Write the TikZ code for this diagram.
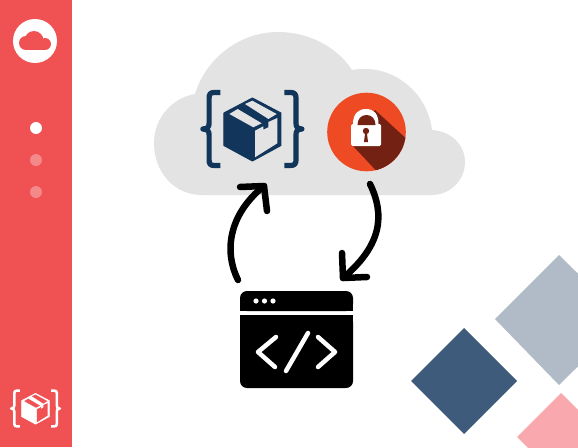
\documentclass[tikz,border=0pt]{standalone}
\definecolor{sidebar}{HTML}{F05153}
\definecolor{cloudgrey}{HTML}{E3E3E3}
\definecolor{navy}{HTML}{12355B}
\definecolor{lockorange}{HTML}{EE4A23}
\definecolor{lockshadow}{HTML}{732112}
\definecolor{lockshadowb}{HTML}{7C2A1A}
\definecolor{dkdiamond}{HTML}{3F5B7B}
\definecolor{gydiamond}{HTML}{B0BBC7}
\definecolor{pkdiamond}{HTML}{F9A9AE}
\tikzset{
  loopline/.style={draw=black,line width=6.5pt,line cap=round,line join=round},
  codeline/.style={draw=white,line width=4.5pt,line cap=round,line join=round},
}
% #1 x, #2 y, #3 scale, #4 foreground, #5 background
\newcommand{\boxicon}[5]{%
\begin{scope}[shift={(#1,#2)},x=#3pt,y=-#3pt]
  \pgfmathsetlengthmacro{\lwa}{#3*1pt}
  \pgfmathsetlengthmacro{\lwb}{#3*5.2pt}
  \fill[#4,draw=#4,line width=\lwa,line join=round] (0,-31)--(28.5,-16)--(28.5,16.5)--(0,32)--(-28.5,16.5)--(-28.5,-16)--cycle;
  \fill[#5] (-23,-15)--(-14.7,-20)--(9.3,-5.7)--(0.9,-1.7)--cycle;
  \fill[#5] (-7.4,-25)--(-0.1,-28.3)--(24.3,-15)--(16,-10)--cycle;
  \fill[#5] (2.6,1.7)--(10.9,-2.7)--(10.9,0.7)--(16,-1.7)--(16,-7)--(24.9,-11)--(24.9,14.3)--(2.6,28.3)--cycle;
  \draw[#4,line width=\lwb,line cap=butt,line join=round]
    (-32,-36.5) -- (-38,-36.5) .. controls (-42,-36.5) and (-43.3,-35) .. (-43.3,-31) -- (-43.3,-6) .. controls (-43.3,-2) and (-44.5,-0.5) .. (-49.5,0)
    .. controls (-44.5,0.5) and (-43.3,2) .. (-43.3,6) -- (-43.3,31) .. controls (-43.3,35) and (-42,36.5) .. (-38,36.5) -- (-32,36.5);
  \draw[#4,line width=\lwb,line cap=butt,line join=round]
    (32,-36.5) -- (38,-36.5) .. controls (42,-36.5) and (43.6,-35) .. (43.6,-31) -- (43.6,-6) .. controls (43.6,-2) and (44.5,-0.5) .. (49.5,0)
    .. controls (44.5,0.5) and (43.6,2) .. (43.6,6) -- (43.6,31) .. controls (43.6,35) and (42,36.5) .. (38,36.5) -- (32,36.5);
\end{scope}}
\begin{document}
\begin{tikzpicture}[x=1pt,y=-1pt]
\useasboundingbox (0,0) rectangle (578,447);
\fill[white] (0,0) rectangle (578,447);
% diamonds
\begin{scope}
  \clip (0,0) rectangle (578,447);
  \fill[gydiamond] (559,255)--(495,319)--(559,385)--(625,320)--cycle;
  \fill[dkdiamond] (464,328)--(517,381)--(464,434)--(411,381)--cycle;
  \fill[pkdiamond] (561,393)--(517,437)--(561,481)--(605,437)--cycle;
\end{scope}
% sidebar
\fill[sidebar] (0,0) rectangle (72,447);
\fill[white] (35,41) circle[radius=22];
\fill[sidebar] (26,43) circle[radius=7];
\fill[sidebar] (34,40.5) circle[radius=9.5];
\fill[sidebar] (45,44) circle[radius=6];
\fill[sidebar] (26,42) rectangle (45,50);
\fill[white] (36,128) circle[radius=6];
\fill[white,opacity=.32] (36,160) circle[radius=6];
\fill[white,opacity=.32] (36,192) circle[radius=6];
\boxicon{35.5}{408.5}{0.49}{white}{sidebar}
% cloud
\fill[cloudgrey] (202,195)
  .. controls (174,195) and (154,172) .. (154,143)
  .. controls (154,118) and (172,98) .. (195,94)
  .. controls (206,58) and (240,32) .. (278,32)
  .. controls (309,32) and (337,47) .. (352,70)
  .. controls (358,69) and (360,69) .. (365,69)
  .. controls (399,69) and (428,96) .. (432,130)
  .. controls (451,131) and (465,145) .. (465,162)
  .. controls (465,180) and (450,195) .. (432,195) -- cycle;
\boxicon{252.4}{129}{1}{navy}{cloudgrey}
% lock
\fill[lockorange] (366.5,132) circle[radius=39.3];
\begin{scope}
  \clip (366.5,132) circle[radius=39.3];
  \fill[lockshadow] (375,110)--(411,143)--(385,180)--(353,146)--cycle;
  \fill[lockshadowb] (411,143)--(385,172)--(395,190)--(420,160)--cycle;
\end{scope}
\fill[white] (353,124) .. controls (353,114) and (358,109) .. (366,109) .. controls (374,109) and (378.5,114) .. (378.5,124) -- cycle;
\fill[white,rounded corners=1.5pt] (351,124) rectangle (381,146);
\fill[lockshadow] (357.5,125) .. controls (357.5,119) and (361,115) .. (366.5,115) .. controls (372,115) and (375.5,119) .. (375.5,125) -- cycle;
\fill[lockshadow] (366,131) circle[radius=3.2];
\fill[lockshadow] (365.2,132) -- (364,142) -- (368,142) -- (366.8,132) -- cycle;
% window
\fill[black,rounded corners=7pt] (240,311) -- (240,291) -- (353,291) -- (353,311) -- cycle;
\fill[black,rounded corners=7pt] (240,315) -- (240,388) -- (353,388) -- (353,315) -- cycle;
\fill[black] (240,315) rectangle (353,325);
\fill[black] (240,303) rectangle (353,311);
\fill[white] (256,301) circle[radius=2.6];
\fill[white] (264.5,301) circle[radius=2.6];
\fill[white] (273,301) circle[radius=2.6];
\draw[codeline] (276,337)--(258,352)--(275,367);
\draw[codeline] (318,337)--(335,352)--(318,367);
\draw[codeline] (308,333)--(286,371);
% arrows
\coordinate (leftstart) at (238,280);
\coordinate (leftend) at (264,186);
\coordinate (rightstart) at (370,184);
\coordinate (rightend) at (343,278);
\draw[loopline] (leftstart) .. controls (224,252) and (228,215) .. (leftend);
\draw[loopline] (240,187) -- (leftend) -- (267,211);
\draw[loopline] (rightstart) .. controls (385,215) and (382,245) .. (rightend);
\draw[loopline] (342,253) -- (rightend) -- (367,277);
\end{tikzpicture}
\end{document}
